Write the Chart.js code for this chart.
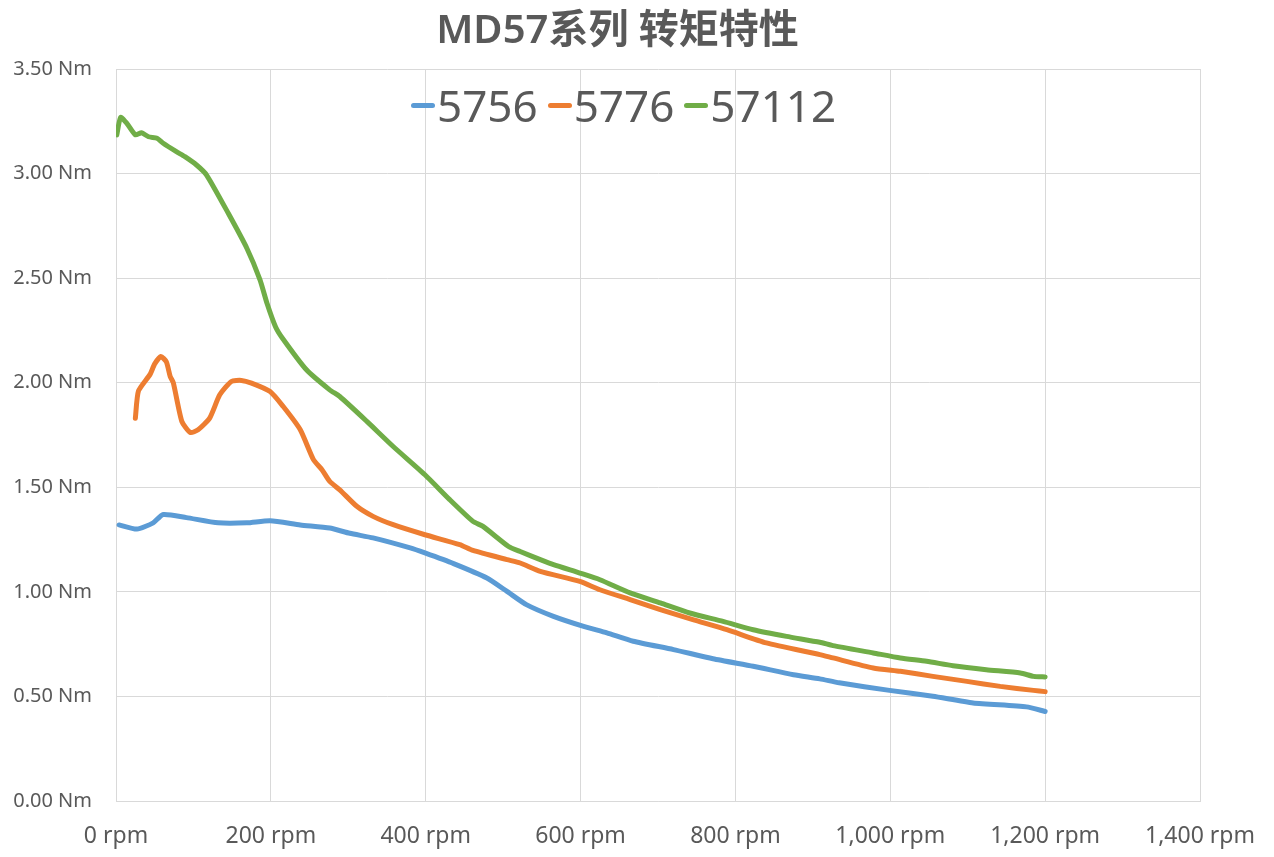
<!DOCTYPE html>
<html>
<head>
<meta charset="utf-8">
<script src="https://cdn.jsdelivr.net/npm/chart.js@4.4.1/dist/chart.umd.min.js"></script>
<style>
  html, body { margin: 0; padding: 0; background: #fff; }
  #wrap { position: relative; width: 1274px; height: 857px; }
  #title {
    position: absolute; left: 0; top: 8px; width: 1235px; text-align: center;
    font-family: 'Noto Sans', 'Noto Sans CJK SC', sans-serif;
    font-size: 40px; font-weight: 600; color: #595959; line-height: 40px;
  }
  #legend {
    position: absolute; left: 411px; top: 80px;
    display: flex; align-items: center; gap: 10px;
    font-family: 'Noto Sans', 'Noto Sans CJK SC', sans-serif;
    font-size: 44px; color: #595959; line-height: 50px;
  }
  #legend .item { display: flex; align-items: center; }
  #legend .mark { width: 24px; height: 5px; border-radius: 3px; margin-right: 2px; }
</style>
</head>
<body>
<div id="wrap">
  <canvas id="myChart" width="1274" height="857"></canvas>
  <div id="title">MD57系列 转矩特性</div>
  <div id="legend"></div>
</div>
<script>
const seriesNames = ['5756', '5776', '57112']
const seriesColors = ['#5B9BD5', '#ED7D31', '#70AD47']

// 5756
const rpm5756 = [4, 27, 48, 61, 91, 132, 169, 199, 238, 276, 302, 332, 380, 399, 436, 479, 505, 530, 565, 604, 634, 668, 720, 771, 823, 875, 909, 934, 999, 1055, 1107, 1176, 1200]
const nm5756 = [1.32, 1.30, 1.33, 1.37, 1.355, 1.33, 1.33, 1.34, 1.32, 1.305, 1.28, 1.258, 1.21, 1.186, 1.135, 1.066, 1.002, 0.939, 0.883, 0.835, 0.804, 0.764, 0.724, 0.68, 0.644, 0.604, 0.584, 0.565, 0.529, 0.501, 0.469, 0.45, 0.428]

// 5776
const rpm5776 = [25, 29, 44, 50, 58, 65, 70, 74, 85, 96, 106, 121, 134, 149, 162, 175, 199, 216, 238, 255, 266, 276, 289, 311, 332, 358, 399, 444, 461, 505, 522, 548, 599, 625, 664, 703, 745, 789, 840, 909, 926, 978, 1013, 1055, 1099, 1142, 1185, 1200]
const nm5776 = [1.83, 1.96, 2.04, 2.09, 2.125, 2.10, 2.03, 2.0, 1.815, 1.762, 1.775, 1.831, 1.942, 2.006, 2.011, 1.998, 1.958, 1.886, 1.775, 1.632, 1.584, 1.528, 1.488, 1.409, 1.361, 1.321, 1.273, 1.226, 1.198, 1.154, 1.138, 1.098, 1.05, 1.01, 0.963, 0.915, 0.867, 0.819, 0.756, 0.70, 0.684, 0.636, 0.62, 0.596, 0.572, 0.548, 0.529, 0.523]

// 57112
const rpm57112 = [1, 6, 14, 25, 33, 42, 53, 61, 78, 89, 104, 117, 145, 169, 186, 195, 206, 215, 246, 276, 289, 324, 358, 399, 431, 461, 474, 507, 522, 548, 565, 599, 625, 664, 703, 741, 784, 823, 866, 909, 926, 978, 1013, 1047, 1081, 1124, 1168, 1185, 1200]
const nm57112 = [3.185, 3.269, 3.24, 3.185, 3.195, 3.176, 3.169, 3.145, 3.105, 3.081, 3.041, 2.993, 2.81, 2.643, 2.492, 2.38, 2.268, 2.213, 2.062, 1.966, 1.934, 1.815, 1.695, 1.56, 1.441, 1.337, 1.313, 1.217, 1.193, 1.154, 1.13, 1.09, 1.058, 0.995, 0.947, 0.899, 0.859, 0.819, 0.787, 0.759, 0.743, 0.708, 0.684, 0.668, 0.647, 0.628, 0.612, 0.596, 0.593]

const rpmLists = [rpm5756, rpm5776, rpm57112]
const nmLists = [nm5756, nm5776, nm57112]

const toPoints = (xs, ys) => xs.map((x, i) => ({ x: x, y: ys[i] }))

const legend = document.getElementById('legend')
seriesNames.forEach((name, i) => {
    const item = document.createElement('div')
    item.className = 'item'
    const mark = document.createElement('span')
    mark.className = 'mark'
    mark.style.background = seriesColors[i]
    const label = document.createElement('span')
    label.textContent = name
    item.appendChild(mark)
    item.appendChild(label)
    legend.appendChild(item)
})

const tickFont = { family: "'Noto Sans', 'Noto Sans CJK SC', sans-serif" }

new Chart(document.getElementById('myChart'), {
    type: 'line',
    data: {
        datasets: seriesNames.map((name, i) => ({
            label: name,
            data: toPoints(rpmLists[i], nmLists[i]),
            borderColor: seriesColors[i],
            backgroundColor: seriesColors[i],
            borderWidth: 5,
            borderCapStyle: 'round',
            borderJoinStyle: 'round',
            pointRadius: 0,
            tension: 0.2,
            fill: false,
        })),
    },
    options: {
        responsive: false,
        animation: false,
        layout: { padding: { left: 0, right: 74, top: 69, bottom: 0 } },
        plugins: {
            legend: { display: false },
            tooltip: { enabled: false },
            title: { display: false },
        },
        scales: {
            x: {
                type: 'linear',
                min: 0,
                max: 1400,
                grid: { color: '#d9d9d9', drawTicks: false },
                border: { color: '#d9d9d9' },
                ticks: {
                    stepSize: 200,
                    padding: 22,
                    color: '#595959',
                    font: { ...tickFont, size: 23 },
                    maxRotation: 0,
                    callback: v => v.toLocaleString('en-US') + ' rpm',
                },
                afterFit: scale => {
                    scale.height = 56
                    scale.paddingLeft = 0
                    scale.paddingRight = 0
                },
            },
            y: {
                min: 0,
                max: 3.5,
                grid: { color: '#d9d9d9', drawTicks: false },
                border: { color: '#d9d9d9' },
                ticks: {
                    stepSize: 0.5,
                    padding: 24,
                    color: '#595959',
                    font: { ...tickFont, size: 20 },
                    callback: v => v.toFixed(2) + ' Nm',
                },
                afterFit: scale => { scale.width = 116 },
            },
        },
    },
})
</script>
</body>
</html>
